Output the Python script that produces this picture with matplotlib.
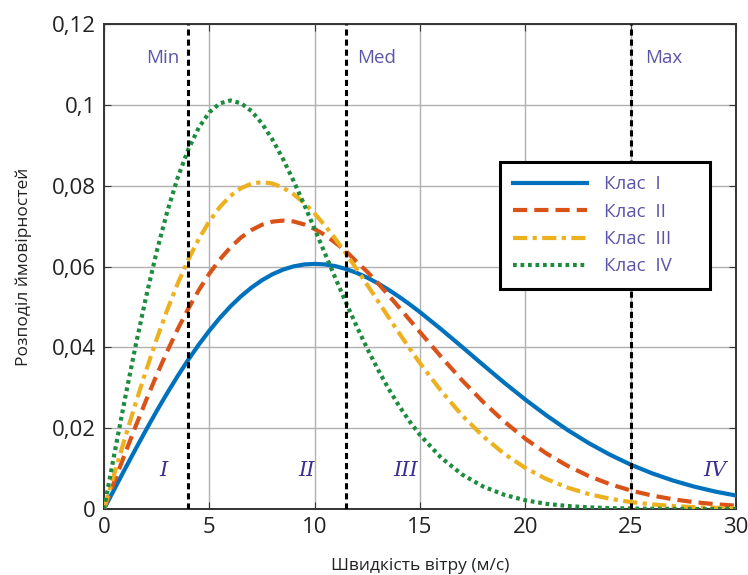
import matplotlib
matplotlib.use("Agg")
import matplotlib.pyplot as plt

speed = [0, 0.5, 1, 1.5, 2, 2.5, 3, 3.5, 4, 4.5, 5, 5.5, 6, 6.5, 7, 7.5, 8, 8.5, 9, 9.5,
         10, 10.5, 11, 11.5, 12, 12.5, 13, 13.5, 14, 14.5, 15,
         16, 17, 18, 19, 20, 21, 22, 23, 24, 25, 26, 27, 28, 29, 30]
class_1 = [0, 0.00499, 0.00995, 0.01483, 0.0196, 0.02423, 0.02868, 0.03292, 0.03692, 0.04067,
           0.04412, 0.04728, 0.05012, 0.05262, 0.05478, 0.05661, 0.05809, 0.05923, 0.06003, 0.06050,
           0.06065, 0.06051, 0.06007, 0.05936, 0.05842, 0.05723, 0.05584, 0.05427, 0.05254, 0.05068, 0.04870,
           0.04449, 0.04009, 0.03563, 0.03124, 0.02707, 0.02316, 0.01956, 0.01633, 0.01348, 0.01098,
           0.00886, 0.00706, 0.00556, 0.00433, 0.00333]
class_2 = [0, 0.00691, 0.01374, 0.02044, 0.02693, 0.03314, 0.03901, 0.04451, 0.04956, 0.05414,
           0.05823, 0.06175, 0.06472, 0.06716, 0.06901, 0.07034, 0.07110, 0.07136, 0.07114, 0.07041,
           0.06927, 0.06776, 0.06580, 0.06374, 0.06110, 0.05867, 0.05587, 0.05294, 0.04991, 0.04684, 0.04376,
           0.03767, 0.03184, 0.02646, 0.02163, 0.01738, 0.01374, 0.01069, 0.00818, 0.00617, 0.00458,
           0.00335, 0.00241, 0.00171, 0.00119, 0.00082]
class_3 = [0, 0.00887, 0.01762, 0.02614, 0.03431, 0.04204, 0.04923, 0.05580, 0.06168, 0.06682,
           0.07118, 0.07473, 0.07746, 0.07938, 0.08050, 0.08087, 0.08052, 0.07950, 0.07788, 0.07572,
           0.07309, 0.07006, 0.06671, 0.06310, 0.05932, 0.05541, 0.05146, 0.04750, 0.04359, 0.03978, 0.03609,
           0.02923, 0.02315, 0.01796, 0.01364, 0.01016, 0.00741, 0.00530, 0.00371, 0.00255, 0.00172,
           0.00114, 0.00074, 0.00047, 0.00029, 0.00018]
class_4 = [0, 0.01384, 0.02739, 0.04039, 0.05255, 0.06367, 0.07354, 0.08201, 0.08897, 0.09436,
           0.09815, 0.10037, 0.10108, 0.10041, 0.09846, 0.09538, 0.09136, 0.08656, 0.08116, 0.07534,
           0.06926, 0.06308, 0.05692, 0.05090, 0.04511, 0.03964, 0.03454, 0.02984, 0.02556, 0.02172, 0.01831,
           0.01270, 0.00853, 0.00555, 0.00351, 0.00215, 0.00128, 0.00074, 0.00041, 0.00022, 0.00012,
           0.00006, 0.00003, 0.00001, 0.00001, 0.0]

series_labels = ["Клас  I", "Клас  II", "Клас  III", "Клас  IV"]
limit_speeds = [4, 11.5, 25]
limit_labels = ["Min", "Med", "Max"]
region_labels = ["I", "II", "III", "IV"]
region_x = [2.8, 9.6, 14.3, 29.0]
x_ticks = [0, 5, 10, 15, 20, 25, 30]
y_ticks = [0, 0.02, 0.04, 0.06, 0.08, 0.1, 0.12]
y_tick_labels = ["0", "0,02", "0,04", "0,06", "0,08", "0,1", "0,12"]

plt.rcParams['font.family'] = ['Open Sans', 'DejaVu Sans']

fig = plt.figure(figsize=(7.48, 5.75), dpi=100)
ax = fig.add_axes([104/748, 1-509/575, 632/748, 485/575])

colors = ["#0072BD", "#D95319", "#EDB120", "#1E8C3E"]
styles = ["-", (0, (3.4, 1.7)), (0, (3.4, 1.3, 1.0, 1.3)), (0, (0.9, 0.9))]
lw = 3.0
for y, lab, c, ls in zip([class_1, class_2, class_3, class_4], series_labels, colors, styles):
    ax.plot(speed, y, color=c, linestyle=ls, lw=lw, label=lab, zorder=3)

for xv in limit_speeds:
    ax.axvline(xv, color="black", linestyle=(0, (2, 1.3)), lw=2.2, zorder=4)

label_color = "#5B55A8"
ax.text(3.6, 0.1115, limit_labels[0], color=label_color, fontsize=13.5, ha="right", va="center")
ax.text(12.0, 0.1115, limit_labels[1], color=label_color, fontsize=13.5, ha="left", va="center")
ax.text(25.7, 0.1115, limit_labels[2], color=label_color, fontsize=13.5, ha="left", va="center")

for xv, lab in zip(region_x, region_labels):
    ax.text(xv, 0.0095, lab, color="#3B2F8F", fontsize=15, style="italic",
            family=["DejaVu Serif"], ha="center", va="center", zorder=5)

ax.set_xlim(0, 30)
ax.set_ylim(0, 0.12)
ax.set_xticks(x_ticks)
ax.set_yticks(y_ticks)
ax.set_yticklabels(y_tick_labels)
ax.tick_params(direction="in", length=5, width=0.8, labelsize=16, colors="#333333",
               labelcolor="#222222", pad=6, top=True, right=True)
ax.grid(True, color="#B0B0B0", lw=1.0, zorder=0)
for s in ax.spines.values():
    s.set_color("#333333")
    s.set_linewidth(1.4)

ax.set_xlabel("Швидкість вітру (м/с)", fontsize=12.5, color="#222222", labelpad=14)
ax.set_ylabel("Розподіл ймовірностей", fontsize=12.5, color="#222222", labelpad=14)

leg = ax.legend(loc="upper left", bbox_to_anchor=(0.627, 0.449, 0.332, 0.266),
                mode="expand", fontsize=13.5,
                frameon=True, fancybox=False, handlelength=3.9, handletextpad=0.95,
                labelspacing=0.5, borderpad=0.7, borderaxespad=0, labelcolor=label_color)
leg.get_frame().set_edgecolor("black")
leg.get_frame().set_linewidth(2.2)
leg.get_frame().set_alpha(1)

fig.savefig("out.png", dpi=100)
